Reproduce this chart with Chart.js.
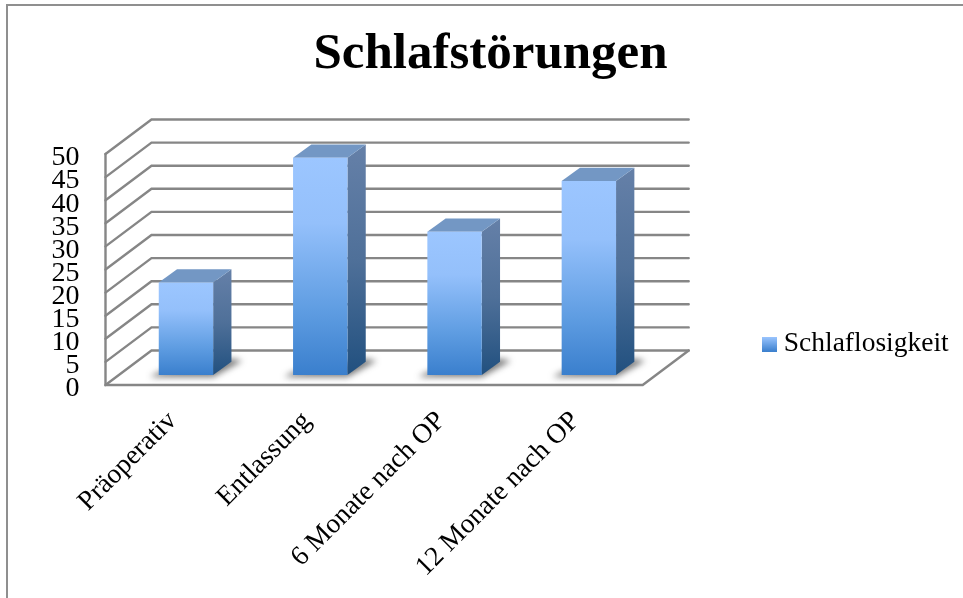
<!DOCTYPE html>
<html><head><meta charset="utf-8">
<style>html,body{margin:0;padding:0;background:#fff}canvas{display:block}</style>
<script src="https://cdn.jsdelivr.net/npm/chart.js@4"></script>
</head><body><canvas id="c" width="963" height="598"></canvas>
<script>
const chartTitle = 'Schlafstörungen';
const seriesName = 'Schlaflosigkeit';
const categories = ['Präoperativ', 'Entlassung', '6 Monate nach OP', '12 Monate nach OP'];
const values = [20, 47, 31, 42];
const yTicks = [0, 5, 10, 15, 20, 25, 30, 35, 40, 45, 50];

const FONT = '"Liberation Serif"';
const GRID = '#868686';
const WALL = {dx: 46, dy: -34.5};
const BAR_SHIFT = {dx: 13.3, dy: -10};
const BAR_DEPTH = {dx: 18.3, dy: -13.3};

function vGrad(ctx, y0, y1, stops) {
  const g = ctx.createLinearGradient(0, y0, 0, y1);
  stops.forEach(s => g.addColorStop(s[0], s[1]));
  return g;
}
const FRONT_STOPS = [[0, '#9cc6ff'], [0.3, '#94c0fb'], [0.7, '#5f9de2'], [1, '#3a7fcd']];
const SIDE_STOPS = [[0, '#6580a8'], [0.5, '#4f7099'], [1, '#21507f']];

const legendSwatch = document.createElement('canvas');
legendSwatch.width = 15; legendSwatch.height = 15;
(function () {
  const s = legendSwatch.getContext('2d');
  s.fillStyle = vGrad(s, 0, 15, [[0, '#9cc6ff'], [1, '#3a7fcd']]);
  s.fillRect(0, 0, 15, 15);
})();

const frame3d = {
  id: 'frame3d',
  afterLayout(chart) {
    const t = chart.titleBlock;
    t.left = 18; t.right = 963;
    const l = chart.legend;
    l.left = 759; l.top = 320.5;
    l.right = l.left + l.width; l.bottom = l.top + l.height;
  },
  beforeDraw(chart) {
    const c = chart.ctx;
    c.save();
    c.fillStyle = '#8f8f8f';
    c.fillRect(6, 4, 957, 2);
    c.fillRect(6, 4, 2, 594);
    c.restore();
  },
  beforeDatasetsDraw(chart) {
    const c = chart.ctx, y = chart.scales.y, a = chart.chartArea;
    c.save();
    c.strokeStyle = GRID; c.lineWidth = 2.4; c.lineCap = 'round'; c.lineJoin = 'miter';
    yTicks.forEach(v => {
      const py = y.getPixelForValue(v);
      c.beginPath();
      c.moveTo(a.left, py);
      c.lineTo(a.left + WALL.dx, py + WALL.dy);
      c.lineTo(a.right + WALL.dx, py + WALL.dy);
      c.stroke();
    });
    c.beginPath();
    c.moveTo(a.left, a.top); c.lineTo(a.left, a.bottom); c.lineTo(a.right, a.bottom);
    c.lineTo(a.right + WALL.dx, a.bottom + WALL.dy);
    c.stroke();
    c.restore();

    const els = chart.getDatasetMeta(0).data;
    c.save();
    c.translate(BAR_SHIFT.dx, BAR_SHIFT.dy);
    els.forEach(el => {
      const p = el.getProps(['x', 'y', 'base', 'width'], true);
      const L = p.x - p.width / 2, R = p.x + p.width / 2;
      c.save();
      c.filter = 'blur(3px)';
      c.fillStyle = 'rgba(50,50,50,0.65)';
      c.beginPath();
      c.moveTo(L - 9, p.base + 2);
      c.lineTo(R, p.base + 2);
      c.lineTo(R + BAR_DEPTH.dx + 11, p.base + BAR_DEPTH.dy - 1);
      c.lineTo(R + BAR_DEPTH.dx, p.base + BAR_DEPTH.dy - 3);
      c.lineTo(L, p.base - 3);
      c.closePath(); c.fill();
      c.restore();
      c.fillStyle = vGrad(c, p.y + BAR_DEPTH.dy, p.base, SIDE_STOPS);
      c.beginPath();
      c.moveTo(R, p.y); c.lineTo(R + BAR_DEPTH.dx, p.y + BAR_DEPTH.dy);
      c.lineTo(R + BAR_DEPTH.dx, p.base + BAR_DEPTH.dy); c.lineTo(R, p.base);
      c.closePath(); c.fill();
      c.fillStyle = '#7397c4';
      c.beginPath();
      c.moveTo(L, p.y); c.lineTo(L + BAR_DEPTH.dx, p.y + BAR_DEPTH.dy);
      c.lineTo(R + BAR_DEPTH.dx, p.y + BAR_DEPTH.dy); c.lineTo(R, p.y);
      c.closePath(); c.fill();
    });
  },
  afterDatasetsDraw(chart) { chart.ctx.restore(); }
};

new Chart(document.getElementById('c').getContext('2d'), {
  type: 'bar',
  plugins: [frame3d],
  data: {
    labels: categories,
    datasets: [{
      label: seriesName,
      data: values,
      categoryPercentage: 1,
      barPercentage: 0.405,
      borderWidth: 0,
      backgroundColor(ctx) {
        const s = ctx.chart.scales.y;
        if (!s || ctx.raw === undefined) return FRONT_STOPS[1][1];
        return vGrad(ctx.chart.ctx, s.getPixelForValue(ctx.raw), s.getPixelForValue(0), FRONT_STOPS);
      }
    }]
  },
  options: {
    responsive: false,
    animation: false,
    layout: {padding: {left: 0, top: 0, right: 320.3, bottom: 0}},
    plugins: {
      tooltip: {enabled: false},
      title: {
        display: true, text: chartTitle, color: '#000',
        font: {family: FONT, size: 51, weight: 'bold', lineHeight: 1.2},
        padding: {top: 24, bottom: 68.8}
      },
      legend: {
        position: 'chartArea',
        align: 'start',
        labels: {
          color: '#000',
          font: {family: FONT, size: 27.5},
          usePointStyle: true, pointStyleWidth: 1,
          boxWidth: 15, boxHeight: 15,
          generateLabels() {
            return [{
              text: seriesName, pointStyle: legendSwatch,
              lineWidth: 0, strokeStyle: 'transparent', fillStyle: '#5f9de2', datasetIndex: 0
            }];
          }
        }
      }
    },
    scales: {
      x: {
        grid: {display: false}, border: {display: false},
        afterFit(s) { s.height = 213; },
        ticks: {
          color: '#000', autoSkip: false, minRotation: 45, maxRotation: 45,
          font: {family: FONT, size: 27.5}, padding: 12, labelOffset: 0
        }
      },
      y: {
        min: 0, max: 50,
        grid: {display: false}, border: {display: false},
        afterFit(s) { s.width = 105.5; },
        afterBuildTicks(s) { s.ticks = yTicks.map(v => ({value: v})); },
        ticks: {color: '#000', autoSkip: false, font: {family: FONT, size: 28}, padding: 18, labelOffset: 4}
      }
    }
  }
});
</script></body></html>
